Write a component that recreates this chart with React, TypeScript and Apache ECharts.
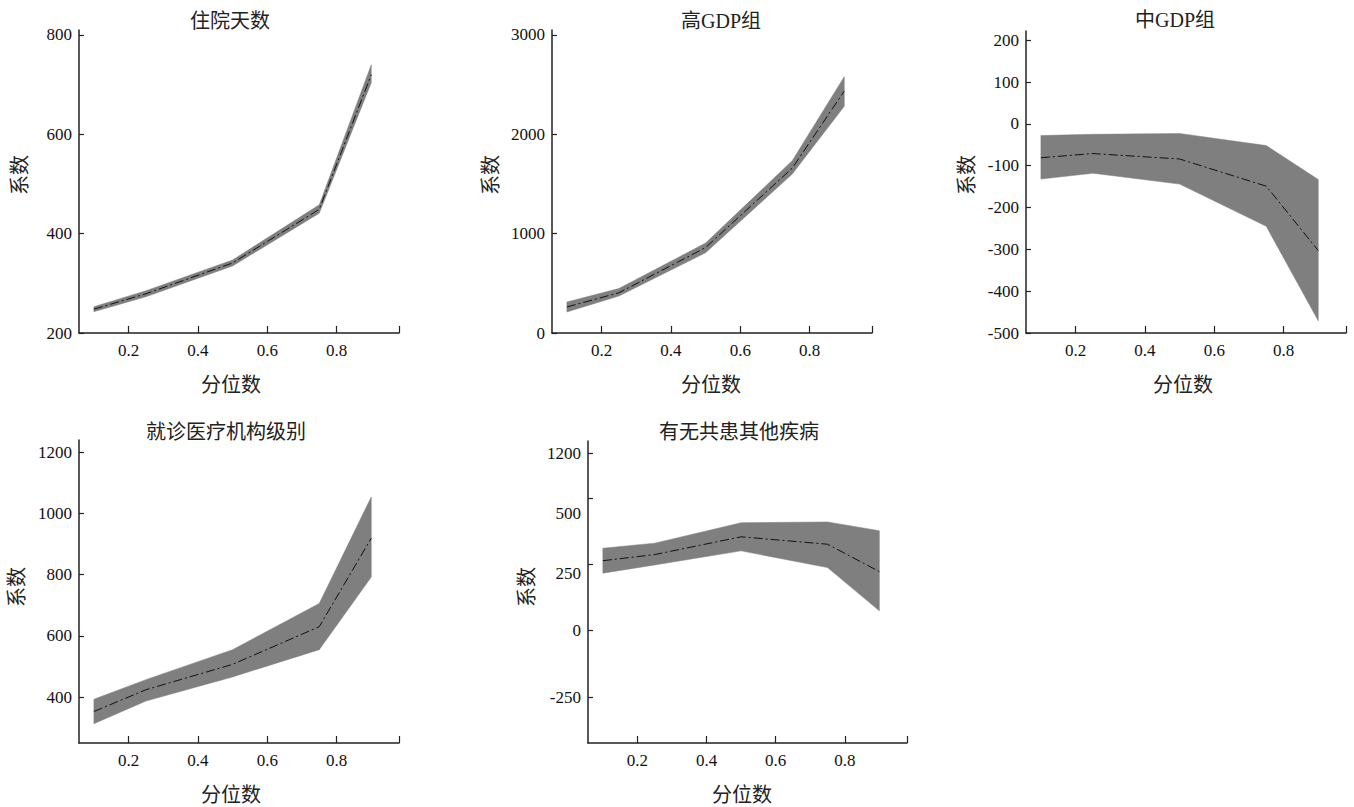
import React, { useEffect, useRef } from "react";
import * as echarts from "echarts";

// ---- data ----
const quantiles = [0.1, 0.25, 0.5, 0.75, 0.9];

const titles = ["住院天数", "高GDP组", "中GDP组", "就诊医疗机构级别", "有无共患其他疾病"];
const xName = "分位数";
const yName = "系数";

const stayMean = [248, 279, 341, 449, 720];
const stayLow = [243, 273, 335, 441, 704];
const stayHigh = [253, 285, 347, 458, 740];

const highGdpMean = [262, 405, 860, 1660, 2435];
const highGdpLow = [212, 372, 808, 1600, 2282];
const highGdpHigh = [312, 448, 905, 1735, 2580];

const midGdpMean = [-81, -71, -84, -149, -303];
const midGdpLow = [-132, -118, -144, -245, -471];
const midGdpHigh = [-28, -25, -23, -52, -133];

const levelMean = [353, 424, 507, 630, 919];
const levelLow = [313, 387, 466, 555, 792];
const levelHigh = [393, 457, 555, 706, 1054];

const comorbMean = [264, 287, 354, 326, 223];
const comorbLow = [217, 248, 301, 238, 75];
const comorbHigh = [311, 330, 407, 410, 377];

const xTickValues = [0.2, 0.4, 0.6, 0.8, 0.98];
const xLabelValues = [0.2, 0.4, 0.6, 0.8];

const yTicks1 = [200, 400, 600, 800];
const yTicks2 = [0, 1000, 2000, 3000];
const yTicks3 = [-500, -400, -300, -200, -100, 0, 100, 200];
const yTicks4 = [400, 600, 800, 1000, 1200];
const yTicks5 = [-250, 0, 250, 500, 668];
const yLabelValues5 = [-250, 0, 214, 440, 668];
const yLabelTexts5 = ["-250", "0", "250", "500", "1200"];

// ---- layout ----
const FONT = "'Liberation Serif', 'Noto Sans CJK SC', serif";
const grids = [
  { left: 79, top: 30, width: 320, height: 303 },
  { left: 552, top: 30, width: 320, height: 303 },
  { left: 1026, top: 31, width: 320, height: 302 },
  { left: 79, top: 440, width: 320, height: 303 },
  { left: 588, top: 441, width: 319, height: 302 },
];
const yRanges = [
  [200, 810],
  [0, 3050],
  [-500, 222],
  [250, 1240],
  [-423, 715],
];
const titlePos = [
  [230, 21],
  [721, 21],
  [1175, 20],
  [226, 432],
  [739, 432],
];
const xNamePos = [
  [231, 385],
  [711, 385],
  [1183, 385],
  [231, 795],
  [742, 795],
];
const yNamePos = [
  [20, 175],
  [491, 175],
  [967, 175],
  [17, 587],
  [527, 587],
];

const charts = [
  { mean: stayMean, low: stayLow, high: stayHigh, ticks: yTicks1 },
  { mean: highGdpMean, low: highGdpLow, high: highGdpHigh, ticks: yTicks2 },
  { mean: midGdpMean, low: midGdpLow, high: midGdpHigh, ticks: yTicks3 },
  { mean: levelMean, low: levelLow, high: levelHigh, ticks: yTicks4 },
  { mean: comorbMean, low: comorbLow, high: comorbHigh, ticks: yTicks5 },
];

function bandRenderItem(params: any, api: any) {
  if (params.dataIndexInside !== 0) return null;
  const n = quantiles.length;
  const upper: number[][] = [];
  const lower: number[][] = [];
  for (let k = 0; k < n; k++) {
    const q = api.value(0, k);
    lower.push(api.coord([q, api.value(1, k)]));
    upper.push(api.coord([q, api.value(2, k)]));
  }
  const points = lower.concat(upper.reverse());
  return {
    type: "polygon",
    shape: { points },
    style: { fill: "#7f7f7f", stroke: "#7f7f7f", lineWidth: 0.5 },
    silent: true,
  };
}

function buildOption() {
  const axisLineStyle = { color: "#222", width: 1.5 };
  const labelStyle = { color: "#111", fontSize: 17, fontFamily: FONT };
  const grid = grids.map((g) => ({ ...g, containLabel: false, outerBoundsMode: "none" }));
  const xAxis = grids.map((_, i) => ({
    type: "value",
    gridIndex: i,
    min: 0.057,
    max: 0.98,
    axisLine: { show: true, onZero: false, lineStyle: axisLineStyle },
    axisTick: { show: true, inside: true, length: 7, customValues: xTickValues, lineStyle: { color: "#222", width: 1.2 } },
    axisLabel: {
      ...labelStyle,
      margin: 9,
      customValues: xLabelValues,
      formatter: (v: number) => v.toFixed(1),
    },
    splitLine: { show: false },
  }));
  const yAxis = charts.map((c, i) => ({
    type: "value",
    gridIndex: i,
    min: yRanges[i][0],
    max: yRanges[i][1],
    axisLine: { show: true, onZero: false, lineStyle: axisLineStyle },
    axisTick: { show: true, inside: true, length: 5, customValues: c.ticks, lineStyle: { color: "#222", width: 1.2 } },
    axisLabel: {
      ...labelStyle,
      margin: 7,
      customValues: i === 4 ? yLabelValues5 : c.ticks,
      formatter:
        i === 4
          ? (v: number) => {
              const k = yLabelValues5.indexOf(Math.round(v));
              return k >= 0 ? yLabelTexts5[k] : "";
            }
          : (v: number) => String(v),
    },
    splitLine: { show: false },
  }));
  const series: any[] = [];
  charts.forEach((c, i) => {
    series.push({
      type: "custom",
      xAxisIndex: i,
      yAxisIndex: i,
      data: quantiles.map((q, k) => [q, c.low[k], c.high[k]]),
      encode: { x: 0, y: [1, 2] },
      renderItem: bandRenderItem,
      silent: true,
      z: 2,
    });
    series.push({
      type: "line",
      xAxisIndex: i,
      yAxisIndex: i,
      data: quantiles.map((q, k) => [q, c.mean[k]]),
      symbol: "none",
      z: 5,
      silent: true,
      lineStyle: { color: "#111", width: 1, type: [9, 3, 2, 3] },
    });
  });

  const textStyleBase = { fill: "#222", fontSize: 20, fontFamily: FONT, align: "center", verticalAlign: "middle" };
  const graphic: any[] = [];
  titles.forEach((t, i) => {
    graphic.push({ type: "text", x: titlePos[i][0], y: titlePos[i][1], style: { ...textStyleBase, text: t } });
    graphic.push({ type: "text", x: xNamePos[i][0], y: xNamePos[i][1], style: { ...textStyleBase, text: xName } });
    graphic.push({
      type: "text",
      x: yNamePos[i][0],
      y: yNamePos[i][1],
      rotation: Math.PI / 2,
      style: { ...textStyleBase, text: yName },
    });
  });

  return {
    animation: false,
    backgroundColor: "#fff",
    textStyle: { fontFamily: FONT },
    grid,
    xAxis,
    yAxis,
    series,
    graphic,
  };
}

export default function App() {
  const ref = useRef<HTMLDivElement>(null);
  useEffect(() => {
    if (!ref.current) return;
    const chart = echarts.init(ref.current, null, { renderer: "svg" });
    chart.setOption(buildOption() as any);
    return () => chart.dispose();
  }, []);
  return (
    <div
      ref={ref}
      style={{ position: "fixed", left: 0, top: 0, width: 1354, height: 807, background: "#fff" }}
    />
  );
}
